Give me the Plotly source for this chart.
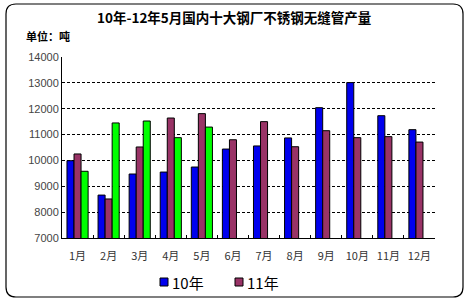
import plotly.graph_objects as go

months = ["1月", "2月", "3月", "4月", "5月", "6月", "7月", "8月", "9月", "10月", "11月", "12月"]
y2010 = [9990, 8660, 9475, 9550, 9745, 10440, 10560, 10870, 12040, 13010, 11730, 11190]
y2011 = [10250, 8510, 10520, 11640, 11810, 10800, 11500, 10530, 11150, 10880, 10920, 10710]
y2012 = [9580, 11450, 11525, 10880, 11290, None, None, None, None, None, None, None]
yticks = [7000, 8000, 9000, 10000, 11000, 12000, 13000, 14000]
ylabels = [str(v) for v in yticks]
series_names = ["10年", "11年", "12年"]
colors = ["#0000EE", "#993366", "#00FF00"]

W, H = 470, 304
L, R, T, B = 62, 435, 57, 238

def px(x):
    return (x - L) / (R - L)

def py(y):
    return (B - y) / (B - T)

fig = go.Figure()
line = dict(color="black", width=1)
for name, vals, col in zip(series_names, [y2010, y2011, y2012], colors):
    fig.add_bar(x=months, y=vals, name=name, marker=dict(color=col, line=line), showlegend=False)

# rounded outer frame
x0, x1, y0, y1, r = 6, 463, 4, 297, 10
path = (f"M {px(x0+r)},{py(y0)} L {px(x1-r)},{py(y0)} Q {px(x1)},{py(y0)} {px(x1)},{py(y0+r)} "
        f"L {px(x1)},{py(y1-r)} Q {px(x1)},{py(y1)} {px(x1-r)},{py(y1)} "
        f"L {px(x0+r)},{py(y1)} Q {px(x0)},{py(y1)} {px(x0)},{py(y1-r)} "
        f"L {px(x0)},{py(y0+r)} Q {px(x0)},{py(y0)} {px(x0+r)},{py(y0)} Z")
shapes = [dict(type="path", path=path, xref="paper", yref="paper",
               line=dict(color="black", width=1.2), fillcolor="rgba(0,0,0,0)")]

annotations = [
    dict(text="<b>10年-12年5月国内十大钢厂不锈钢无缝管产量</b>", x=px(234), y=py(17),
         xref="paper", yref="paper", showarrow=False, xanchor="center", yanchor="middle",
         font=dict(size=13.5, color="black")),
    dict(text="<b>单位：吨</b>", x=px(24), y=py(36), xref="paper", yref="paper",
         showarrow=False, xanchor="left", yanchor="middle", font=dict(size=11, color="black")),
]

# legend (10年, 11年 visible)
leg_x = [160, 235]
for i in range(2):
    sx = leg_x[i]
    shapes.append(dict(type="rect", xref="paper", yref="paper",
                       x0=px(sx), x1=px(sx + 8), y0=py(286), y1=py(278),
                       fillcolor=colors[i], line=dict(color="black", width=1)))
    annotations.append(dict(text=series_names[i], x=px(sx + 10), y=py(282), xref="paper", yref="paper",
                            showarrow=False, xanchor="left", yanchor="middle",
                            font=dict(size=15, color="black")))

fig.update_layout(
    width=W, height=H,
    margin=dict(l=L, r=W - R, t=T, b=H - B),
    paper_bgcolor="white", plot_bgcolor="white",
    barmode="group", bargap=0.32, bargroupgap=0,
    font=dict(family="Noto Sans CJK SC, sans-serif", color="#222"),
    shapes=shapes,
    annotations=annotations,
    showlegend=False,
    xaxis=dict(showline=True, linecolor="black", linewidth=1, ticks="inside", ticklen=3,
               tickcolor="black", tickson="boundaries", tickangle=0, ticklabelstandoff=8,
               tickfont=dict(size=11, color="#333"),
               showgrid=False, fixedrange=True),
    yaxis=dict(range=[7000, 14000], tickvals=yticks, ticktext=ylabels, showline=True,
               linecolor="black", linewidth=1,
               showgrid=True, gridcolor="black", griddash="3px,2px", gridwidth=1,
               tickfont=dict(size=11, color="#444", family="Liberation Sans, sans-serif"),
               ticks="", zeroline=False, fixedrange=True),
)

fig.write_html("out.html")
